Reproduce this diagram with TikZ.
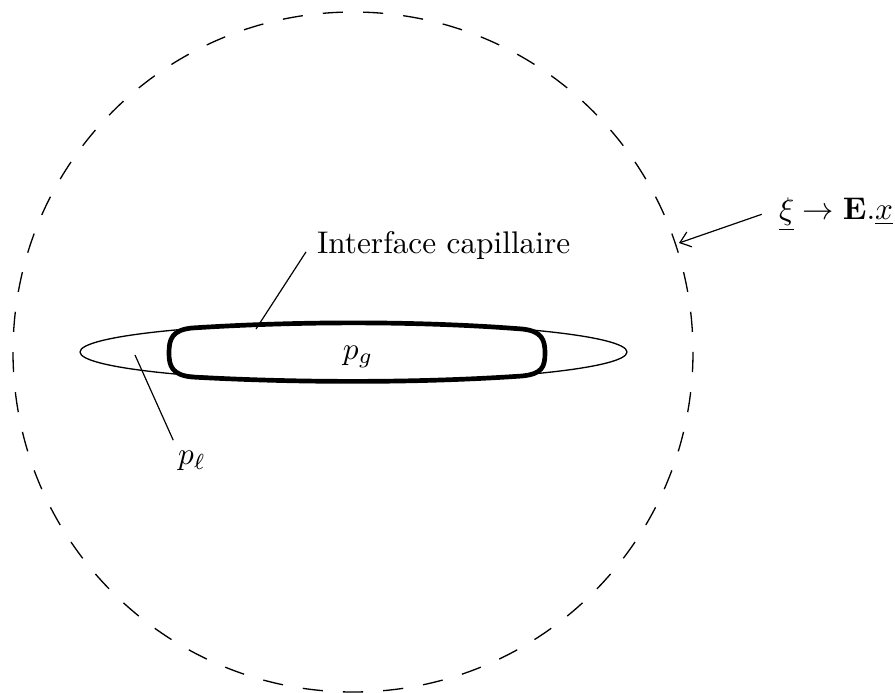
\documentclass[tikz,border=0pt]{standalone}
\usepackage{amsmath}
\usepackage{amssymb}
\usetikzlibrary{arrows.meta,positioning,calc}

\begin{document}
\begin{tikzpicture}[x=0.3195pt, y=-0.3195pt,
    thinline/.style={line width=0.42pt},
    leader/.style={line width=0.38pt},
    interface/.style={line width=1.5pt, line join=round}]
  \useasboundingbox (0,0) rectangle (895,693);

  % outer domain
  \draw[thinline, dash pattern=on 6.44pt off 6.44pt] (353,352) circle[radius=340];

  % crack (ellipse)
  \draw[thinline] (353.5,352) ellipse[x radius=273.5, y radius=29];

  % gas bubble
  \draw[interface] (192,328) .. controls (300,321) and (420,321) .. (522,329)
    .. controls (542,331) and (545,340) .. (545,353)
    .. controls (545,367) and (542,374) .. (522,376)
    .. controls (420,383) and (300,383) .. (192,377)
    .. controls (172,375) and (169,366) .. (169,353)
    .. controls (169,339) and (172,330) .. (192,328);

  \node (pg) at (358,357) {$p_g$};
  \node (pl) at (192,461) {$p_\ell$};
  \node[anchor=base west] (iface) at (306,253) {Interface capillaire};
  \node[anchor=base west] (xilbl) at (768,219) {$\underline{\xi}\rightarrow\mathbf{E}.\underline{x}$};

  \coordinate (ifaceend) at (256,329);
  \coordinate (plend) at (135,355);
  \coordinate (circpt) at (679,243);

  \draw[leader] ([yshift=-2.2pt]iface.west) -- (ifaceend);
  \draw[leader] ([xshift=-6pt]pl.north) -- (plend);
  \draw[leader, -{Straight Barb[length=3.2pt, width=5pt]}] ([xshift=-2pt]xilbl.west) -- (circpt);
\end{tikzpicture}
\end{document}
